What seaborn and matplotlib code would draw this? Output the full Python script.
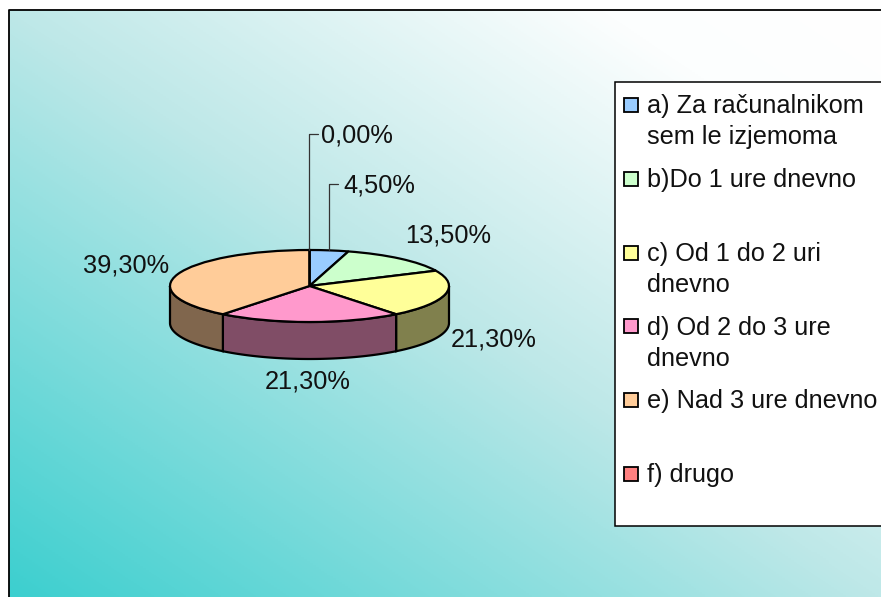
import matplotlib.pyplot as plt
import matplotlib.patches as mpatches
import matplotlib.lines as mlines
from matplotlib.colors import LinearSegmentedColormap
import numpy as np
import seaborn as sns

categories = [
    ["a) Za računalnikom", "sem le izjemoma"],
    ["b)Do 1 ure dnevno"],
    ["c) Od 1 do 2 uri", "dnevno"],
    ["d) Od 2 do 3 ure", "dnevno"],
    ["e) Nad 3 ure dnevno"],
    ["f) drugo"],
]
values = [4.5, 13.5, 21.3, 21.3, 39.3, 0.0]
slice_colors = ["#99CCFF", "#CCFFCC", "#FFFF99", "#FF99CC", "#FFCC99", "#FF8080"]

W, H = 881, 597

sns.set_theme(style="white")
plt.rcParams["font.family"] = ["Liberation Sans", "DejaVu Sans"]
FONT = 18.3


def box(x0, y0, x1, y1):
    # pixel box (y down) to figure fractions
    return [x0 / W, 1 - y1 / H, (x1 - x0) / W, (y1 - y0) / H]


def px(x, y):
    return x / W, 1 - y / H


fig = plt.figure(figsize=(W / 100, H / 100), dpi=100, facecolor="white")

# background gradient, corner to corner
bg = fig.add_axes(box(9, 10, W, H))
yy, xx = np.mgrid[0:1:300j, 0:1:300j]
grad = (xx + yy) / 2
cmap = LinearSegmentedColormap.from_list(
    "bg", [(0, "#3CCFCF"), (0.5, "#BEE8E8"), (0.84, "#FCFEFE"), (1, "#FFFFFF")]
)
bg.imshow(grad, cmap=cmap, origin="lower", aspect="auto", vmin=0, vmax=1)
bg.axis("off")
fig.add_artist(mlines.Line2D([9 / W, 9 / W, 1], [0, 1 - 10 / H, 1 - 10 / H], color="black", lw=1.3))

# pie, squashed into an ellipse
cx, cy, rx, ry, depth = 309.5, 286, 139.5, 36, 37
ax = fig.add_axes(box(cx - rx, cy - ry, cx + rx, cy + ry + depth), zorder=2)
colors = sns.color_palette(slice_colors)
ax.pie(
    values,
    colors=colors,
    startangle=90,
    counterclock=False,
    radius=1,
    wedgeprops={"edgecolor": "black", "linewidth": 1.6, "zorder": 3},
)
ax.set_aspect("auto")
ax.set_xlim(-1, 1)
ax.set_ylim(1 - (2 * ry + depth) / ry, 1)
ax.axis("off")

# side wall of the front half
d = depth / ry
edges = np.concatenate([[0], np.cumsum(values)]) / sum(values) * 360
for i in range(len(values)):
    a, b = max(edges[i], 90), min(edges[i + 1], 270)
    if b <= a:
        continue
    t = np.radians(np.linspace(a, b, 60))
    px_, py_ = np.sin(t), np.cos(t)
    ax.fill(
        np.r_[px_, px_[::-1]],
        np.r_[py_, py_[::-1] - d],
        facecolor=tuple(c * 0.5 for c in colors[i]),
        edgecolor="black",
        linewidth=1.6,
        zorder=1,
        clip_on=False,
    )

# value labels
label_pos = [(379, 185), (448, 235), (494, 339), (308, 382), (126, 266), (357, 135)]
for v, (lx, ly) in zip(values, label_pos):
    x, y = px(lx, ly)
    fig.text(x, y, f"{v:.2f}%".replace(".", ","), fontsize=FONT, color="#111111",
             ha="center", va="center", zorder=5)

# leader lines for the two small slices
mids = (edges[:-1] + edges[1:]) / 2
for i, (end_x, top_y) in {0: (338, 184), 5: (318, 134)}.items():
    ex = cx + rx * np.sin(np.radians(mids[i]))
    ey = cy - ry * np.cos(np.radians(mids[i]))
    xs, ys = zip(px(ex, ey), px(ex, top_y), px(end_x, top_y))
    fig.add_artist(mlines.Line2D(xs, ys, color="#333333", lw=0.9, zorder=4))

# legend
l, t, r, b = box(615, 82, W + 5, 526)
fig.add_artist(mpatches.Rectangle((l, t), r, b, transform=fig.transFigure,
                                  facecolor="white", edgecolor="black", lw=1.1, zorder=4))
for i, lines_ in enumerate(categories):
    y0 = 105 + 73.8 * i
    sx, sy = px(624, y0 + 7)
    fig.add_artist(mpatches.Rectangle((sx, sy), 14 / W, 14 / H, transform=fig.transFigure,
                                      facecolor=colors[i], edgecolor="black", lw=1.3, zorder=5))
    for j, line in enumerate(lines_):
        x, y = px(647, y0 + 1.2 + 31 * j)
        fig.text(x, y, line, fontsize=18.15, color="#111111", ha="left", va="center", zorder=6)

fig.savefig("out.png", dpi=100, facecolor="white")
